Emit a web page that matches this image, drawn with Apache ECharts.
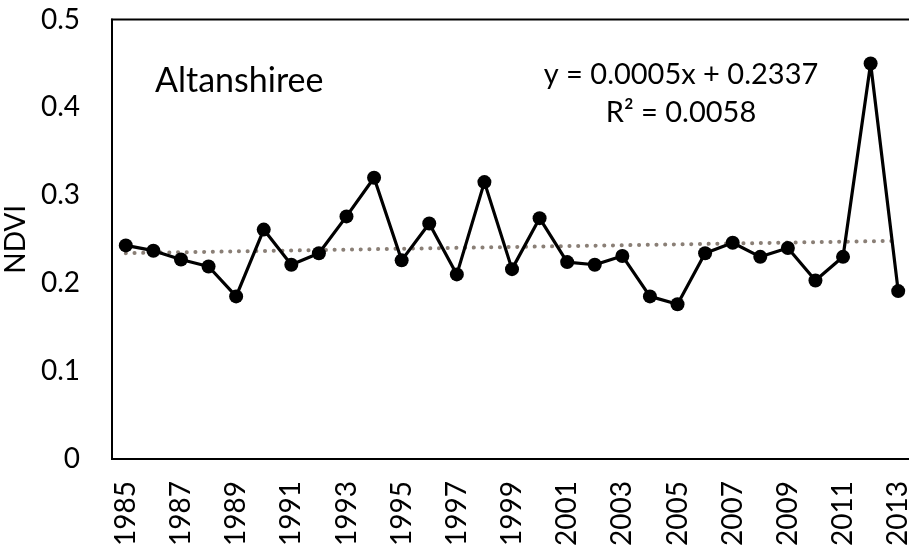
<!DOCTYPE html>
<html><head><meta charset="utf-8">
<script src="https://cdn.jsdelivr.net/npm/echarts@6/dist/echarts.min.js"></script>
<style>html,body{margin:0;padding:0;background:#fff}#c{width:909px;height:545px}</style>
</head><body><div id="c"></div>
<script>
const years = ['1985','1986','1987','1988','1989','1990','1991','1992','1993','1994','1995','1996','1997','1998','1999','2000','2001','2002','2003','2004','2005','2006','2007','2008','2009','2010','2011','2012','2013'];
const ndvi = [0.243,0.237,0.227,0.219,0.185,0.261,0.221,0.234,0.276,0.320,0.226,0.268,0.210,0.315,0.216,0.274,0.224,0.221,0.231,0.185,0.176,0.234,0.246,0.230,0.240,0.203,0.230,0.450,0.191];
const trendEnds = [['1985',0.2342],['2013',0.2482]];
const yTicks = ['0','0.1','0.2','0.3','0.4','0.5'];
const siteName = 'Altanshiree';
const eqLines = ['y = 0.0005x + 0.2337','R² = 0.0058'];

const F = 'Lato, "Open Sans", sans-serif';
const chart = echarts.init(document.getElementById('c'));
chart.setOption({
  animation:false,
  backgroundColor:'#fff',
  grid:{left:112, top:19.5, width:800, height:439.5, containLabel:false, outerBoundsMode:'none',
    show:true, borderColor:'#000', borderWidth:2},
  xAxis:{type:'category', data:years, boundaryGap:true,
    axisLine:{lineStyle:{color:'#000', width:2}}, axisTick:{show:false},
    axisLabel:{rotate:90, interval:1, margin:22, color:'#000', fontFamily:F, fontSize:28}},
  yAxis:{type:'value', min:0, max:0.5, interval:0.1,
    name:'NDVI', nameLocation:'middle', nameGap:80, nameRotate:90,
    nameTextStyle:{color:'#000', fontFamily:F, fontSize:28},
    axisLine:{show:true, lineStyle:{color:'#000', width:2}}, axisTick:{show:false}, splitLine:{show:false},
    axisLabel:{margin:32, color:'#000', fontFamily:F, fontSize:28,
      formatter:(v)=>yTicks[Math.round(v*10)]}},
  series:[
    {type:'line', data:trendEnds, symbol:'none', z:1, clip:false,
      lineStyle:{color:'#8a7f76', width:4, type:[0.1,8.6], cap:'round'}},
    {type:'line', data:ndvi, symbol:'circle', symbolSize:14, z:3, clip:false,
      itemStyle:{color:'#000'}, lineStyle:{color:'#000', width:3.2}}
  ],
  graphic:[
    {type:'text', x:155, y:81, style:{text:siteName, font:'34px '+F, fill:'#000', textAlign:'left', textVerticalAlign:'middle'}},
    {type:'text', x:681, y:75, style:{text:eqLines[0], font:'29px '+F, fill:'#000', textAlign:'center', textVerticalAlign:'middle'}},
    {type:'text', x:681, y:113, style:{text:eqLines[1], font:'29px '+F, fill:'#000', textAlign:'center', textVerticalAlign:'middle'}}
  ]
});
</script></body></html>
